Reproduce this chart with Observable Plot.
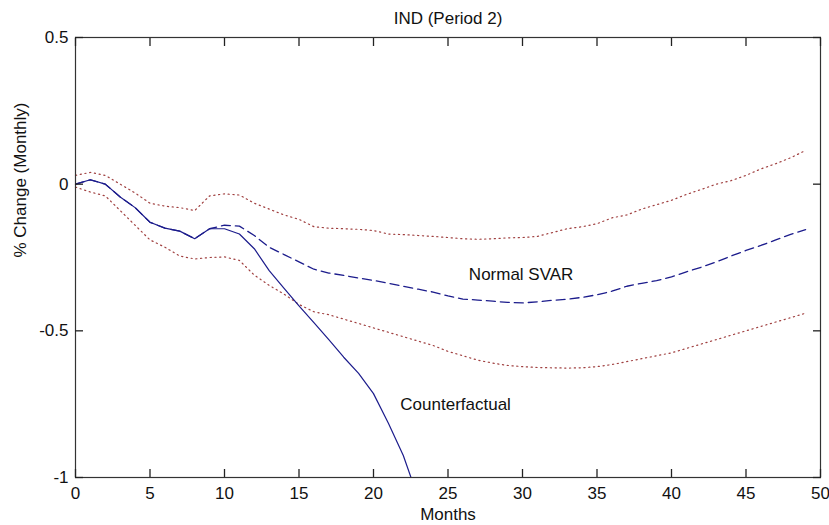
<!DOCTYPE html>
<html>
<head>
<meta charset="utf-8">
<script src="https://cdn.jsdelivr.net/npm/d3@7"></script>
<script src="https://cdn.jsdelivr.net/npm/@observablehq/plot@0.6"></script>
<style>
  html, body { margin: 0; padding: 0; background: #fff; }
  #chart svg { display: block; }
</style>
</head>
<body>
<div id="chart"></div>
<script>
// ---- data ----
const months = d3.range(0, 50);
const svar = [0, 0.015, 0, -0.044, -0.08, -0.13, -0.15, -0.16, -0.186, -0.152,
  -0.14, -0.143, -0.175, -0.215, -0.24, -0.265, -0.29, -0.303, -0.311, -0.32,
  -0.328, -0.338, -0.348, -0.358, -0.368, -0.381, -0.392, -0.395, -0.399, -0.403,
  -0.405, -0.401, -0.396, -0.392, -0.386, -0.377, -0.365, -0.348, -0.338, -0.329,
  -0.316, -0.299, -0.283, -0.265, -0.245, -0.226, -0.209, -0.19, -0.171, -0.155];
const counterfactual = [0, 0.015, 0, -0.044, -0.08, -0.13, -0.15, -0.16, -0.186, -0.152,
  -0.152, -0.17, -0.22, -0.295, -0.355, -0.415, -0.472, -0.53, -0.59, -0.645,
  -0.714, -0.815, -0.925, -1.07];
const upper = [0.03, 0.04, 0.03, 0.0, -0.03, -0.065, -0.075, -0.08, -0.09, -0.04,
  -0.033, -0.037, -0.065, -0.085, -0.105, -0.12, -0.145, -0.15, -0.152, -0.154,
  -0.158, -0.17, -0.172, -0.175, -0.178, -0.182, -0.186, -0.188, -0.186, -0.183,
  -0.182, -0.178, -0.165, -0.152, -0.145, -0.135, -0.115, -0.105, -0.085, -0.07,
  -0.055, -0.035, -0.018, 0.0, 0.012, 0.03, 0.052, 0.07, 0.09, 0.115];
const lower = [-0.01, -0.027, -0.04, -0.09, -0.14, -0.19, -0.215, -0.245, -0.255, -0.25,
  -0.248, -0.26, -0.31, -0.345, -0.375, -0.41, -0.435, -0.445, -0.46, -0.475,
  -0.49, -0.505, -0.52, -0.535, -0.55, -0.57, -0.585, -0.6, -0.61, -0.618,
  -0.622, -0.625, -0.626, -0.627, -0.626, -0.622, -0.615, -0.605, -0.595, -0.585,
  -0.575, -0.56, -0.545, -0.53, -0.515, -0.5, -0.485, -0.47, -0.455, -0.44];
const xTicks = [0, 5, 10, 15, 20, 25, 30, 35, 40, 45, 50];
const yTicks = [-1, -0.5, 0, 0.5];
const yTickLabels = ["-1", "-0.5", "0", "0.5"];
const annotations = [
  {x: 26.4, y: -0.308, label: "Normal SVAR"},
  {x: 21.8, y: -0.752, label: "Counterfactual"}
];
const title = "IND (Period 2)";
const xLabel = "Months";
const yLabel = "% Change (Monthly)";

// ---- tables ----
const svarData = months.map((m, i) => ({m, v: svar[i]}));
const cfData = counterfactual.map((v, i) => ({m: months[i], v}));
const upData = months.map((m, i) => ({m, v: upper[i]}));
const loData = months.map((m, i) => ({m, v: lower[i]}));

const TICK = 8;
const font = "'Liberation Sans', Arial, Helvetica, sans-serif";
const blue = "#1c1c8c";
const red = "#a04040";
const axisColor = "#222";
const noLabel = () => "";

const chart = Plot.plot({
  width: 829,
  height: 525,
  marginLeft: 75,
  marginRight: 9,
  marginTop: 37,
  marginBottom: 48,
  style: {fontFamily: font, fontSize: "17px", background: "#fff", color: "#111"},
  x: {domain: [0, 50]},
  y: {domain: [-1, 0.5]},
  marks: [
    Plot.line(upData, {x: "m", y: "v", stroke: red, strokeWidth: 1.2, strokeDasharray: "1.2,3.6"}),
    Plot.line(loData, {x: "m", y: "v", stroke: red, strokeWidth: 1.2, strokeDasharray: "1.2,3.6"}),
    Plot.line(svarData, {x: "m", y: "v", stroke: blue, strokeWidth: 1.3, strokeDasharray: "9,5"}),
    Plot.line(cfData, {x: "m", y: "v", stroke: blue, strokeWidth: 1.2, clip: true}),
    Plot.text(annotations, {x: "x", y: "y", text: "label", textAnchor: "start", fontSize: 17, fill: "#111"}),
    Plot.frame({stroke: "#333", strokeWidth: 1.2}),
    // inward ticks on all four sides (axis ticks shifted inside the frame)
    Plot.axisX({anchor: "bottom", ticks: xTicks, tickSize: TICK, dy: -TICK, tickFormat: noLabel, label: null, stroke: axisColor, strokeWidth: 1.3}),
    Plot.axisX({anchor: "top", ticks: xTicks, tickSize: TICK, dy: TICK, tickFormat: noLabel, label: null, stroke: axisColor, strokeWidth: 1.3}),
    Plot.axisY({anchor: "left", ticks: yTicks, tickSize: TICK, dx: TICK, tickFormat: noLabel, label: null, stroke: axisColor, strokeWidth: 1.3}),
    Plot.axisY({anchor: "right", ticks: yTicks, tickSize: TICK, dx: -TICK, tickFormat: noLabel, label: null, stroke: axisColor, strokeWidth: 1.3}),
    // tick labels
    Plot.axisX({anchor: "bottom", ticks: xTicks, tickSize: 0, tickPadding: 9, label: null, fontSize: 17, tickFormat: d => String(d)}),
    Plot.axisY({anchor: "left", ticks: yTicks, tickSize: 0, tickPadding: 7, label: null, fontSize: 17,
      tickFormat: d => yTickLabels[yTicks.indexOf(d)]}),
    Plot.text([title], {frameAnchor: "top", dy: -18.5, lineAnchor: "middle", fontSize: 17, fill: "#111"}),
    Plot.text([xLabel], {frameAnchor: "bottom", dy: 37, lineAnchor: "middle", fontSize: 17, fill: "#111"}),
    Plot.text([yLabel], {frameAnchor: "left", dx: -55, rotate: -90, lineAnchor: "middle", fontSize: 17, fill: "#111"})
  ]
});
document.getElementById("chart").appendChild(chart);
</script>
</body>
</html>
